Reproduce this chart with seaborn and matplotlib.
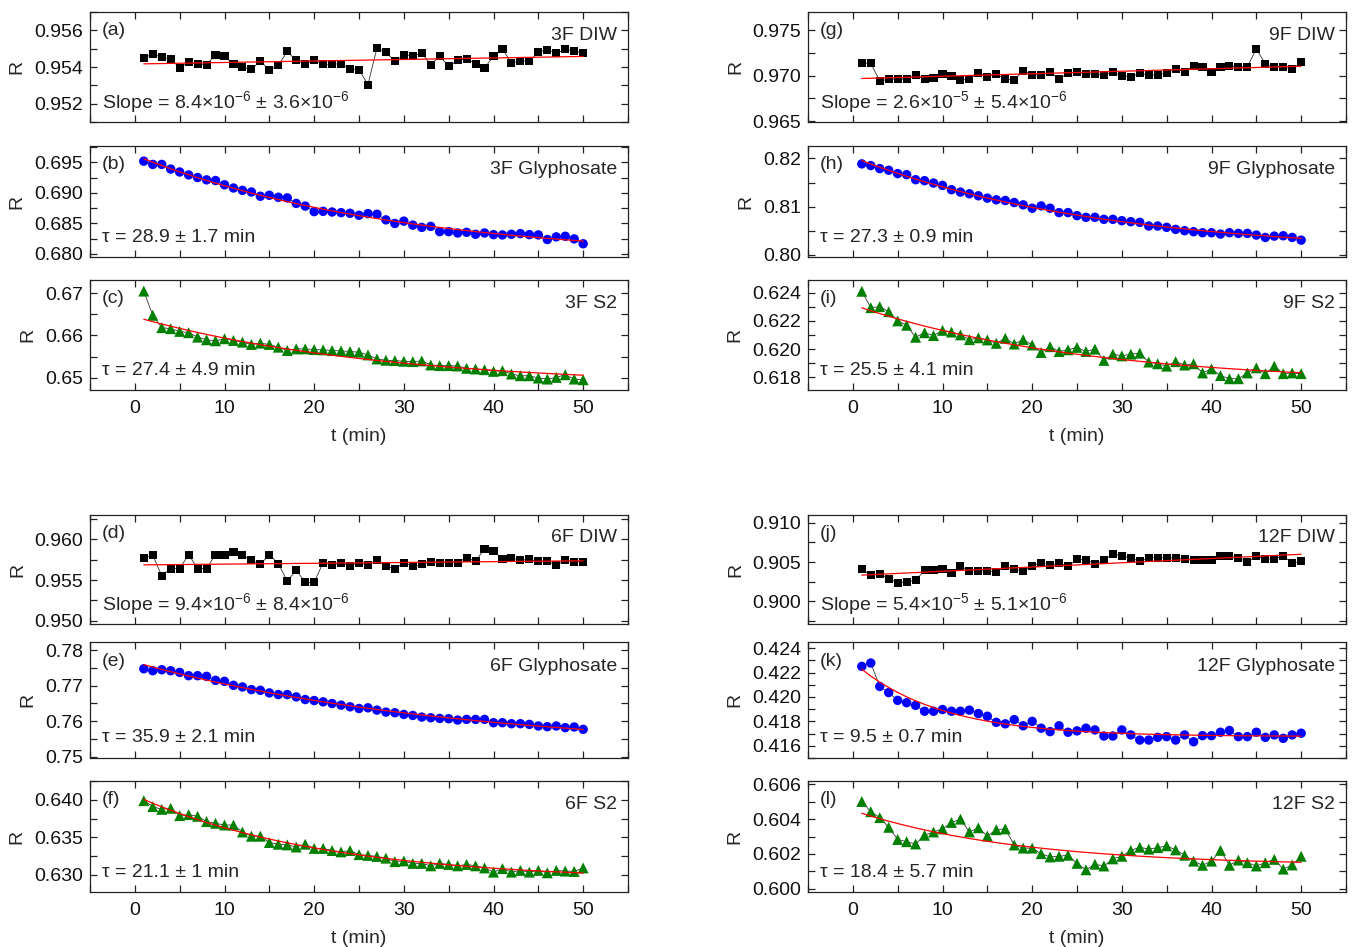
import numpy as np
import pandas as pd
import matplotlib
matplotlib.use("Agg")
import matplotlib.pyplot as plt
import seaborn as sns
from matplotlib.ticker import MultipleLocator, FormatStrFormatter

# ---------------- data ----------------
t = np.arange(1, 51)

r_3f_diw = [0.95451, 0.95469, 0.95455, 0.95442, 0.95396, 0.95427, 0.95415, 0.95413, 0.95467, 0.95458,
            0.95418, 0.95400, 0.95387, 0.95433, 0.95382, 0.95409, 0.95485, 0.95436, 0.95418, 0.95436,
            0.95415, 0.95415, 0.95418, 0.95391, 0.95385, 0.95304, 0.95504, 0.95480, 0.95433, 0.95465,
            0.95462, 0.95476, 0.95413, 0.95458, 0.95404, 0.95436, 0.95445, 0.95418, 0.95395, 0.95458,
            0.95498, 0.95422, 0.95433, 0.95431, 0.95482, 0.95495, 0.95475, 0.95496, 0.95487, 0.95478]
r_3f_gly = [0.69521, 0.69468, 0.69468, 0.69392, 0.69344, 0.69296, 0.69253, 0.69215, 0.69204, 0.69134,
            0.69081, 0.69043, 0.69016, 0.68946, 0.68962, 0.68930, 0.68919, 0.68828, 0.68785, 0.68694,
            0.68699, 0.68688, 0.68677, 0.68667, 0.68634, 0.68661, 0.68651, 0.68559, 0.68500, 0.68538,
            0.68473, 0.68436, 0.68452, 0.68366, 0.68366, 0.68344, 0.68355, 0.68323, 0.68344, 0.68317,
            0.68312, 0.68323, 0.68333, 0.68317, 0.68312, 0.68237, 0.68280, 0.68290, 0.68247, 0.68167]
r_3f_s2 = [0.67048, 0.66476, 0.66183, 0.66159, 0.66095, 0.66064, 0.65960, 0.65897, 0.65873, 0.65921,
           0.65881, 0.65841, 0.65786, 0.65817, 0.65786, 0.65722, 0.65643, 0.65682, 0.65682, 0.65667,
           0.65659, 0.65643, 0.65635, 0.65619, 0.65603, 0.65539, 0.65444, 0.65413, 0.65405, 0.65389,
           0.65381, 0.65397, 0.65302, 0.65286, 0.65286, 0.65278, 0.65222, 0.65206, 0.65190, 0.65150,
           0.65166, 0.65087, 0.65047, 0.65047, 0.64992, 0.64968, 0.65008, 0.65071, 0.64968, 0.64952]
r_6f_diw = [0.95776, 0.95805, 0.95553, 0.95642, 0.95642, 0.95813, 0.95642, 0.95642, 0.95813, 0.95813,
            0.95845, 0.95805, 0.95744, 0.95695, 0.95813, 0.95703, 0.95488, 0.95622, 0.95472, 0.95472,
            0.95715, 0.95683, 0.95711, 0.95675, 0.95715, 0.95683, 0.95744, 0.95675, 0.95634, 0.95711,
            0.95671, 0.95695, 0.95723, 0.95715, 0.95715, 0.95715, 0.95776, 0.95731, 0.95886, 0.95857,
            0.95756, 0.95772, 0.95744, 0.95756, 0.95731, 0.95731, 0.95683, 0.95744, 0.95723, 0.95723]
r_6f_gly = [0.77476, 0.77420, 0.77448, 0.77420, 0.77373, 0.77280, 0.77280, 0.77261, 0.77149, 0.77121,
            0.77009, 0.76963, 0.76888, 0.76869, 0.76795, 0.76748, 0.76748, 0.76683, 0.76608, 0.76580,
            0.76543, 0.76496, 0.76450, 0.76403, 0.76356, 0.76375, 0.76310, 0.76254, 0.76235, 0.76188,
            0.76160, 0.76114, 0.76095, 0.76076, 0.76067, 0.76030, 0.76048, 0.76048, 0.76048, 0.75955,
            0.75955, 0.75927, 0.75927, 0.75908, 0.75862, 0.75843, 0.75862, 0.75815, 0.75834, 0.75768]
r_6f_s2 = [0.63988, 0.63909, 0.63872, 0.63886, 0.63788, 0.63802, 0.63779, 0.63709, 0.63686, 0.63663,
           0.63663, 0.63570, 0.63514, 0.63514, 0.63430, 0.63407, 0.63398, 0.63370, 0.63407, 0.63351,
           0.63351, 0.63323, 0.63305, 0.63323, 0.63268, 0.63258, 0.63244, 0.63221, 0.63175, 0.63184,
           0.63151, 0.63151, 0.63119, 0.63151, 0.63137, 0.63119, 0.63137, 0.63119, 0.63091, 0.63035,
           0.63082, 0.63035, 0.63058, 0.63035, 0.63058, 0.63026, 0.63058, 0.63049, 0.63044, 0.63091]
r_9f_diw = [0.97136, 0.97136, 0.96941, 0.96960, 0.96960, 0.96963, 0.97007, 0.96963, 0.96971, 0.97018,
            0.97000, 0.96952, 0.96963, 0.97033, 0.96989, 0.97015, 0.96963, 0.96952, 0.97055, 0.97007,
            0.97007, 0.97037, 0.96963, 0.97026, 0.97044, 0.97018, 0.97015, 0.97007, 0.97037, 0.97000,
            0.96989, 0.97026, 0.97007, 0.97007, 0.97033, 0.97074, 0.97044, 0.97107, 0.97092, 0.97044,
            0.97099, 0.97107, 0.97099, 0.97099, 0.97294, 0.97129, 0.97099, 0.97092, 0.97070, 0.97147]
r_9f_gly = [0.81888, 0.81853, 0.81790, 0.81755, 0.81685, 0.81664, 0.81559, 0.81538, 0.81489, 0.81440,
            0.81350, 0.81301, 0.81266, 0.81224, 0.81175, 0.81140, 0.81126, 0.81084, 0.81035, 0.80965,
            0.81014, 0.80965, 0.80874, 0.80874, 0.80811, 0.80776, 0.80776, 0.80734, 0.80734, 0.80706,
            0.80685, 0.80671, 0.80595, 0.80595, 0.80567, 0.80525, 0.80497, 0.80476, 0.80455, 0.80455,
            0.80427, 0.80455, 0.80441, 0.80441, 0.80406, 0.80357, 0.80385, 0.80392, 0.80357, 0.80301]
r_9f_s2 = [0.62410, 0.62294, 0.62301, 0.62265, 0.62200, 0.62169, 0.62084, 0.62116, 0.62096, 0.62133,
           0.62121, 0.62101, 0.62067, 0.62080, 0.62065, 0.62041, 0.62077, 0.62036, 0.62067, 0.62029,
           0.61976, 0.62017, 0.61983, 0.61995, 0.62012, 0.61983, 0.62000, 0.61920, 0.61964, 0.61952,
           0.61964, 0.61971, 0.61908, 0.61896, 0.61879, 0.61911, 0.61887, 0.61896, 0.61831, 0.61860,
           0.61812, 0.61790, 0.61790, 0.61831, 0.61867, 0.61826, 0.61879, 0.61826, 0.61831, 0.61826]
r_12f_diw = [0.90415, 0.90330, 0.90352, 0.90288, 0.90237, 0.90246, 0.90267, 0.90394, 0.90394, 0.90407,
             0.90364, 0.90449, 0.90386, 0.90386, 0.90386, 0.90373, 0.90449, 0.90407, 0.90386, 0.90449,
             0.90492, 0.90458, 0.90492, 0.90445, 0.90534, 0.90530, 0.90479, 0.90521, 0.90606, 0.90572,
             0.90555, 0.90508, 0.90555, 0.90555, 0.90555, 0.90555, 0.90542, 0.90521, 0.90530, 0.90530,
             0.90572, 0.90572, 0.90551, 0.90500, 0.90572, 0.90542, 0.90542, 0.90576, 0.90487, 0.90508]
r_12f_gly = [0.42250, 0.42278, 0.42086, 0.42036, 0.41972, 0.41953, 0.41931, 0.41883, 0.41883, 0.41897,
             0.41883, 0.41883, 0.41892, 0.41864, 0.41842, 0.41792, 0.41780, 0.41814, 0.41764, 0.41800,
             0.41744, 0.41716, 0.41764, 0.41711, 0.41722, 0.41744, 0.41730, 0.41680, 0.41680, 0.41730,
             0.41689, 0.41647, 0.41647, 0.41669, 0.41675, 0.41647, 0.41689, 0.41633, 0.41683, 0.41683,
             0.41711, 0.41725, 0.41675, 0.41675, 0.41711, 0.41669, 0.41689, 0.41661, 0.41689, 0.41703]
r_12f_s2 = [0.60502, 0.60443, 0.60409, 0.60353, 0.60283, 0.60270, 0.60257, 0.60307, 0.60326, 0.60344,
            0.60381, 0.60400, 0.60326, 0.60350, 0.60303, 0.60339, 0.60344, 0.60251, 0.60233, 0.60233,
            0.60201, 0.60182, 0.60186, 0.60192, 0.60145, 0.60108, 0.60140, 0.60130, 0.60171, 0.60186,
            0.60220, 0.60238, 0.60227, 0.60236, 0.60246, 0.60223, 0.60192, 0.60158, 0.60134, 0.60158,
            0.60220, 0.60134, 0.60164, 0.60149, 0.60130, 0.60149, 0.60168, 0.60112, 0.60136, 0.60186]

panel_letters = ["(a)", "(b)", "(c)", "(d)", "(e)", "(f)", "(g)", "(h)", "(i)", "(j)", "(k)", "(l)"]
sample_names = ["3F DIW", "3F Glyphosate", "3F S2", "6F DIW", "6F Glyphosate", "6F S2",
                "9F DIW", "9F Glyphosate", "9F S2", "12F DIW", "12F Glyphosate", "12F S2"]
fit_texts = [r"Slope = 8.4$\times$10$^{-6}$ ± 3.6$\times$10$^{-6}$", "τ = 28.9 ± 1.7 min", "τ = 27.4 ± 4.9 min",
             r"Slope = 9.4$\times$10$^{-6}$ ± 8.4$\times$10$^{-6}$", "τ = 35.9 ± 2.1 min", "τ = 21.1 ± 1 min",
             r"Slope = 2.6$\times$10$^{-5}$ ± 5.4$\times$10$^{-6}$", "τ = 27.3 ± 0.9 min", "τ = 25.5 ± 4.1 min",
             r"Slope = 5.4$\times$10$^{-5}$ ± 5.1$\times$10$^{-6}$", "τ = 9.5 ± 0.7 min", "τ = 18.4 ± 5.7 min"]
taus = [None, 28.9, 27.4, None, 35.9, 21.1, None, 27.3, 25.5, None, 9.5, 18.4]
fit_start = [0, 0, 1, 0, 0, 0, 0, 0, 1, 0, 0, 0]
series = [r_3f_diw, r_3f_gly, r_3f_s2, r_6f_diw, r_6f_gly, r_6f_s2,
          r_9f_diw, r_9f_gly, r_9f_s2, r_12f_diw, r_12f_gly, r_12f_s2]

y_limits = [(0.951, 0.957), (0.6795, 0.6977), (0.6471, 0.6731),
            (0.9496, 0.9630), (0.7496, 0.7823), (0.6277, 0.6425),
            (0.9649, 0.9770), (0.7995, 0.8226), (0.6171, 0.6249),
            (0.8971, 0.9110), (0.4150, 0.4245), (0.5998, 0.6062)]
y_major = [0.002, 0.005, 0.01, 0.005, 0.01, 0.005, 0.005, 0.01, 0.002, 0.005, 0.002, 0.002]
y_minor = [0.001, 0.0025, 0.005, 0.0025, 0.005, 0.0025, 0.0025, 0.005, 0.001, 0.0025, 0.001, 0.001]
y_fmt = ["%.3f", "%.3f", "%.2f", "%.3f", "%.2f", "%.3f", "%.3f", "%.2f", "%.3f", "%.3f", "%.3f", "%.3f"]

# ---------------- style ----------------
sns.set_theme(style="ticks")
plt.rcParams["font.family"] = ["Liberation Sans", "DejaVu Sans"]
plt.rcParams["mathtext.fontset"] = "custom"
plt.rcParams["mathtext.rm"] = "Liberation Sans"
plt.rcParams["mathtext.it"] = "Liberation Sans:italic"
plt.rcParams["mathtext.bf"] = "Liberation Sans:bold"

W, H = 1353, 947
fig = plt.figure(figsize=(W / 100, H / 100), dpi=100)
fig.patch.set_facecolor("white")

col_left = [90, 808]
col_width = 538
rows_px = [(12, 122), (146, 257), (280, 390), (515, 624), (642, 758), (781, 892)]

styles = {"DIW": ("s", "black", 34), "Gly": ("o", "#0000ff", 46), "S2": ("^", "#008000", 62)}
FS = 14

for i in range(12):
    col = i // 6
    row = i % 6
    top, bot = rows_px[row]
    ax = fig.add_axes([col_left[col] / W, 1 - bot / H, col_width / W, (bot - top) / H])
    y = np.array(series[i])
    name = sample_names[i]
    kind = "DIW" if "DIW" in name else ("Gly" if "Gly" in name else "S2")
    marker, color, size = styles[kind]
    df = pd.DataFrame({"t": t, "R": y})

    # fit
    s0 = fit_start[i]
    if taus[i] is None:
        p = np.polyfit(t[s0:], y[s0:], 1)
        yfit = np.polyval(p, t)
    else:
        basis = np.vstack([np.ones_like(t[s0:], dtype=float), np.exp(-t[s0:] / taus[i])]).T
        coef, *_ = np.linalg.lstsq(basis, y[s0:], rcond=None)
        yfit = coef[0] + coef[1] * np.exp(-t / taus[i])
    dff = pd.DataFrame({"t": t, "R": yfit})

    sns.lineplot(data=df, x="t", y="R", ax=ax, color="#333333", lw=0.6, zorder=2)
    sns.scatterplot(data=df, x="t", y="R", ax=ax, marker=marker, color=color, s=size,
                    edgecolor="none", linewidth=0, zorder=3)
    sns.lineplot(data=dff, x="t", y="R", ax=ax, color="red", lw=0.9, zorder=4)

    ax.set_xlim(-5, 55)
    ax.set_ylim(*y_limits[i])
    ax.xaxis.set_major_locator(MultipleLocator(10))
    ax.xaxis.set_minor_locator(MultipleLocator(5))
    ax.yaxis.set_major_locator(MultipleLocator(y_major[i]))
    ax.yaxis.set_minor_locator(MultipleLocator(y_minor[i]))
    ax.yaxis.set_major_formatter(FormatStrFormatter(y_fmt[i]))
    ax.tick_params(which="both", direction="in", top=True, right=True, bottom=True, left=True,
                   labelsize=FS, width=0.9, color="#222222", labelcolor="#111111")
    ax.tick_params(which="major", length=5)
    ax.tick_params(which="minor", length=5)
    ax.tick_params(axis="x", pad=7)
    ax.tick_params(axis="y", pad=5)
    for sp in ax.spines.values():
        sp.set_linewidth(0.9)
        sp.set_color("#222222")
    ax.set_ylabel("R", fontsize=FS, labelpad=6)
    if row in (2, 5):
        ax.set_xlabel("t (min)", fontsize=FS, labelpad=8)
    else:
        ax.set_xlabel("")
        ax.tick_params(labelbottom=False)

    ax.text(0.022, 0.83, panel_letters[i], transform=ax.transAxes, fontsize=FS, va="center", ha="left")
    ax.text(0.98, 0.79, name, transform=ax.transAxes, fontsize=FS, va="center", ha="right")
    ax.text(0.022, 0.18, fit_texts[i], transform=ax.transAxes, fontsize=FS, va="center", ha="left")

fig.savefig("out.png", dpi=100, facecolor="white")
